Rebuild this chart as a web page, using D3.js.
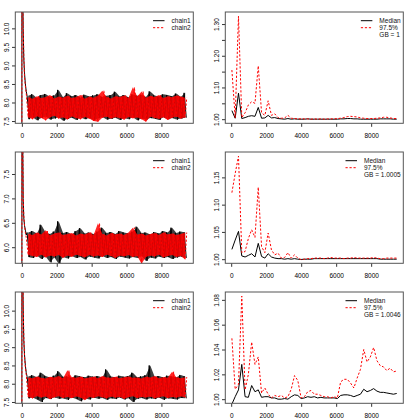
<!DOCTYPE html>
<html>
<head>
<meta charset="utf-8">
<script src="https://cdn.jsdelivr.net/npm/d3@7"></script>
<style>
    body { margin: 0; background: #fff; }
    svg { display: block; }
    text { font-family: "Liberation Sans", Arial, sans-serif; }
</style>
</head>
<body>
<div id="chart"></div>
<script>
// shared x axis / iterations
var xTicks = [0, 2000, 4000, 6000, 8000];
var nIter = 9450;
var burnIter = [1, 5, 40, 75, 110, 150, 200, 250];
var binIter = [300, 550, 800, 1050, 1300, 1550, 1800, 2050, 2300, 2550, 2800, 3050, 3300, 3550, 3800, 4050, 4300, 4550, 4800,
    5050, 5300, 5550, 5800, 6050, 6300, 6550, 6800, 7050, 7300, 7550, 7800, 8050, 8300, 8550, 8800, 9050, 9300];
var gelmanIter = [40, 228, 417, 605, 794, 982, 1170, 1359, 1547, 1736, 1924, 2112, 2301, 2489, 2678, 2866, 3054, 3243, 3431,
    3620, 3808, 3996, 4185, 4373, 4562, 4750, 4938, 5127, 5315, 5504, 5692, 5880, 6069, 6257, 6446, 6634, 6822, 7011, 7199,
    7388, 7576, 7764, 7953, 8141, 8330, 8518, 8706, 8895, 9083, 9272, 9460];
var chainNames = ["chain1", "chain2"];
var gelmanNames = ["Median", "97.5%"];
var gelmanNotes = ["GB = 1", "GB = 1.0005", "GB = 1.0046"];

// row 1 - trace (chain1 = a, chain2 = b), hi/lo of each bin
var burn1a = [5, 20, 11.5, 10.0, 9.2, 8.8, 8.5, 8.3];
var burn1b = [5, 20, 11.8, 10.1, 9.3, 8.7, 8.45, 8.25];
var hi1a = [8.18, 8.22, 8.12, 8.2, 8.23, 8.15, 8.19, 8.34, 8.14, 8.25, 8.17, 8.2, 8.13, 8.21, 8.16, 8.19, 8.22, 8.15, 8.18, 8.2,
    8.29, 8.16, 8.2, 8.14, 8.22, 8.18, 8.21, 8.15, 8.3, 8.19, 8.16, 8.22, 8.2, 8.17, 8.24, 8.15, 8.26];
var lo1a = [7.55, 7.6, 7.52, 7.58, 7.62, 7.54, 7.57, 7.6, 7.51, 7.56, 7.59, 7.53, 7.6, 7.55, 7.58, 7.52, 7.57, 7.61, 7.54, 7.56,
    7.59, 7.53, 7.58, 7.55, 7.6, 7.52, 7.57, 7.54, 7.58, 7.56, 7.53, 7.6, 7.55, 7.58, 7.54, 7.57, 7.59];
var hi1b = [8.14, 8.1, 8.17, 8.12, 8.15, 8.2, 8.11, 8.16, 8.13, 8.18, 8.12, 8.15, 8.2, 8.1, 8.16, 8.13, 8.19, 8.32, 8.14, 8.11,
    8.17, 8.15, 8.19, 8.12, 8.41, 8.16, 8.3, 8.13, 8.18, 8.15, 8.2, 8.12, 8.17, 8.14, 8.19, 8.16, 8.13];
var lo1b = [7.6, 7.55, 7.63, 7.58, 7.52, 7.6, 7.64, 7.57, 7.6, 7.54, 7.62, 7.58, 7.55, 7.61, 7.57, 7.5, 7.48, 7.59, 7.62, 7.56,
    7.6, 7.58, 7.54, 7.61, 7.57, 7.6, 7.55, 7.48, 7.62, 7.58, 7.56, 7.6, 7.53, 7.59, 7.62, 7.57, 7.6];
var traceLim1 = [7.55, 10.33];
var traceTicks1 = [7.5, 8, 8.5, 9, 9.5, 10];
var traceTickLabels1 = ["7.5", "8.0", "8.5", "9.0", "9.5", "10.0"];

// row 1 - shrink factor
var median1 = [1.027, 1.003, 1.082, 1.002, 1.005, 1.009, 1.011, 1.009, 1.037, 1.003,
    1.004, 1.012, 1.004, 1.005, 1.002, 1.001, 1.000, 1.002, 1.000, 1.001,
    1.000, 1.000, 1.000, 1.001, 1.000, 1.000, 1.000, 1.000, 1.000, 1.000,
    1.000, 1.000, 1.000, 1.001, 1.001, 1.002, 1.002, 1.001, 1.001, 1.000,
    1.000, 1.000, 1.000, 1.000, 1.000, 1.001, 1.001, 1.001, 1.001, 1.000, 1.000];
var upper1 = [1.155, 1.004, 1.325, 1.005, 1.020, 1.045, 1.055, 1.050, 1.168, 1.020,
    1.012, 1.058, 1.012, 1.017, 1.005, 1.003, 1.004, 1.012, 1.003, 1.002,
    1.001, 1.001, 1.001, 1.001, 1.000, 1.001, 1.000, 1.001, 1.000, 1.001,
    1.001, 1.001, 1.002, 1.003, 1.005, 1.008, 1.009, 1.008, 1.007, 1.004,
    1.003, 1.002, 1.002, 1.002, 1.003, 1.004, 1.006, 1.006, 1.004, 1.002, 1.002];
var gelmanTicks1 = [1, 1.05, 1.1, 1.15, 1.2, 1.25, 1.3];
var gelmanTickLabels1 = ["1.00", "", "1.10", "", "1.20", "", "1.30"];

// row 2 - trace
var burn2a = [4, 12, 8.6, 7.0, 6.6, 6.45, 6.35, 6.25];
var burn2b = [4, 12, 8.7, 7.1, 6.65, 6.45, 6.3, 6.2];
var hi2a = [6.3, 6.33, 6.28, 6.46, 6.3, 6.27, 6.32, 6.53, 6.29, 6.31, 6.26, 6.33, 6.39, 6.28, 6.3, 6.27, 6.32, 6.4, 6.29, 6.31,
    6.27, 6.33, 6.3, 6.28, 6.32, 6.42, 6.29, 6.3, 6.26, 6.31, 6.28, 6.33, 6.3, 6.4, 6.29, 6.32, 6.3];
var lo2a = [5.8, 5.78, 5.83, 5.76, 5.81, 5.69, 5.79, 5.66, 5.8, 5.77, 5.82, 5.78, 5.8, 5.75, 5.81, 5.79, 5.77, 5.82, 5.78, 5.8,
    5.76, 5.81, 5.79, 5.77, 5.8, 5.78, 5.82, 5.72, 5.79, 5.77, 5.81, 5.78, 5.8, 5.76, 5.79, 5.81, 5.78];
var hi2b = [6.27, 6.25, 6.3, 6.26, 6.35, 6.24, 6.28, 6.3, 6.25, 6.27, 6.29, 6.24, 6.28, 6.26, 6.3, 6.25, 6.49, 6.27, 6.24, 6.29,
    6.26, 6.28, 6.25, 6.3, 6.4, 6.26, 6.28, 6.24, 6.27, 6.29, 6.25, 6.3, 6.26, 6.28, 6.25, 6.27, 6.3];
var lo2b = [5.84, 5.82, 5.8, 5.85, 5.79, 5.83, 5.81, 5.84, 5.78, 5.83, 5.8, 5.85, 5.82, 5.79, 5.84, 5.81, 5.83, 5.8, 5.85, 5.82,
    5.78, 5.83, 5.81, 5.84, 5.8, 5.82, 5.66, 5.8, 5.83, 5.81, 5.85, 5.79, 5.82, 5.84, 5.8, 5.82, 5.75];
var traceLim2 = [5.755, 7.866];
var traceTicks2 = [6, 6.5, 7, 7.5];
var traceTickLabels2 = ["6.0", "6.5", "7.0", "7.5"];

// row 2 - shrink factor
var median2 = [1.018, 1.035, 1.051, 1.006, 1.004, 1.007, 1.010, 1.004, 1.029, 1.005,
    1.002, 1.010, 1.004, 1.002, 1.001, 1.001, 1.000, 1.001, 1.000, 1.001,
    1.000, 0.9995, 1.000, 1.000, 1.000, 1.001, 1.001, 1.001, 1.001, 1.001,
    1.001, 1.001, 1.001, 1.001, 1.001, 1.001, 1.001, 1.001, 1.001, 1.001,
    1.001, 1.001, 1.001, 1.001, 1.001, 1.000, 1.000, 1.000, 1.000, 1.000, 1.000];
var upper2 = [1.122, 1.157, 1.189, 1.012, 1.014, 1.038, 1.054, 1.040, 1.132, 1.023,
    1.012, 1.048, 1.017, 1.008, 1.011, 1.002, 1.003, 1.012, 1.002, 1.008,
    1.002, 0.999, 1.000, 1.001, 1.001, 1.002, 1.002, 1.002, 1.001, 1.002,
    1.003, 1.002, 1.002, 1.002, 1.001, 1.002, 1.002, 1.003, 1.002, 1.002,
    1.002, 1.002, 1.002, 1.003, 1.002, 1.001, 1.001, 1.002, 1.002, 1.002, 1.002];
var gelmanTicks2 = [1, 1.05, 1.1, 1.15];
var gelmanTickLabels2 = ["1.00", "1.05", "1.10", "1.15"];

// row 3 - trace
var burn3a = [5, 20, 11.6, 10.1, 9.2, 8.8, 8.5, 8.3];
var burn3b = [5, 20, 11.8, 10.2, 9.3, 8.75, 8.45, 8.25];
var hi3a = [8.2, 8.23, 8.18, 8.3, 8.21, 8.17, 8.22, 8.34, 8.19, 8.2, 8.16, 8.23, 8.2, 8.18, 8.22, 8.19, 8.21, 8.17, 8.39, 8.2,
    8.18, 8.22, 8.19, 8.21, 8.3, 8.18, 8.2, 8.23, 8.5, 8.19, 8.21, 8.17, 8.22, 8.2, 8.18, 8.24, 8.2];
var lo3a = [7.6, 7.62, 7.57, 7.5, 7.61, 7.58, 7.63, 7.59, 7.6, 7.56, 7.62, 7.58, 7.52, 7.6, 7.57, 7.62, 7.59, 7.61, 7.56, 7.6,
    7.58, 7.62, 7.57, 7.6, 7.5, 7.59, 7.61, 7.57, 7.6, 7.58, 7.62, 7.56, 7.6, 7.59, 7.57, 7.61, 7.6];
var hi3b = [8.17, 8.15, 8.2, 8.16, 8.14, 8.19, 8.17, 8.21, 8.15, 8.37, 8.18, 8.16, 8.2, 8.14, 8.17, 8.19, 8.15, 8.21, 8.17, 8.16,
    8.19, 8.15, 8.18, 8.2, 8.16, 8.17, 8.14, 8.19, 8.17, 8.21, 8.15, 8.18, 8.16, 8.33, 8.17, 8.15, 8.18];
var lo3b = [7.64, 7.6, 7.66, 7.62, 7.65, 7.58, 7.63, 7.66, 7.61, 7.64, 7.6, 7.65, 7.62, 7.55, 7.64, 7.61, 7.66, 7.63, 7.6, 7.65,
    7.62, 7.64, 7.59, 7.63, 7.66, 7.61, 7.64, 7.62, 7.65, 7.6, 7.63, 7.66, 7.61, 7.64, 7.62, 7.65, 7.63];
var traceLim3 = [7.577, 10.397];
var traceTicks3 = [7.5, 8, 8.5, 9, 9.5, 10];
var traceTickLabels3 = ["7.5", "8.0", "8.5", "9.0", "9.5", "10.0"];

// row 3 - shrink factor
var median3 = [0.996, 1.002, 1.0075, 1.028, 1.002, 1.0015, 1.011, 1.006, 1.0075, 1.0015,
    1.002, 1.002, 1.001, 1.001, 1.000, 1.000, 1.0005, 1.000, 1.002, 1.0035,
    1.003, 1.0005, 1.001, 1.002, 1.0015, 1.002, 1.001, 1.0015, 1.001, 1.001,
    1.001, 1.001, 1.0005, 1.003, 1.0035, 1.0035, 1.003, 1.002, 1.003, 1.004,
    1.008, 1.006, 1.007, 1.0085, 1.0065, 1.0055, 1.0055, 1.005, 1.0045, 1.004, 1.0046];
var upper3 = [1.049, 1.008, 1.012, 1.083, 1.0075, 1.020, 1.046, 1.028, 1.034, 1.005,
    1.009, 1.004, 1.001, 1.003, 1.002, 1.003, 1.001, 1.002, 1.008, 1.019,
    1.015, 1.001, 1.002, 1.006, 1.007, 1.004, 1.004, 1.003, 1.002, 1.002,
    1.001, 1.002, 1.001, 1.014, 1.016, 1.016, 1.013, 1.009, 1.017, 1.024,
    1.040, 1.030, 1.034, 1.0416, 1.031, 1.027, 1.026, 1.023, 1.025, 1.022, 1.0227];
var gelmanTicks3 = [1, 1.02, 1.04, 1.06, 1.08];
var gelmanTickLabels3 = ["1.00", "1.02", "1.04", "1.06", "1.08"];

var rows = [
    {burn: [burn1a, burn1b], hi: [hi1a, hi1b], lo: [lo1a, lo1b], lim: traceLim1, ticks: traceTicks1, labels: traceTickLabels1,
        median: median1, upper: upper1, gTicks: gelmanTicks1, gLabels: gelmanTickLabels1, note: gelmanNotes[0]},
    {burn: [burn2a, burn2b], hi: [hi2a, hi2b], lo: [lo2a, lo2b], lim: traceLim2, ticks: traceTicks2, labels: traceTickLabels2,
        median: median2, upper: upper2, gTicks: gelmanTicks2, gLabels: gelmanTickLabels2, note: gelmanNotes[1]},
    {burn: [burn3a, burn3b], hi: [hi3a, hi3b], lo: [lo3a, lo3b], lim: traceLim3, ticks: traceTicks3, labels: traceTickLabels3,
        median: median3, upper: upper3, gTicks: gelmanTicks3, gLabels: gelmanTickLabels3, note: gelmanNotes[2]}
];

// layout
var rowHeight = 140;
var boxTop = 12, boxBottom = 123.3;
var traceLeft = 15.3, traceRight = 193.3;
var gelmanLeft = 225.3, gelmanRight = 403.3;
var fontSize = 6.5;
var boxColor = '#555';
var dash = '2.2,1.8';
var chainColors = ['#000', '#ff0000'];

var svg = d3.select('#chart').append('svg')
    .attr('width', 420)
    .attr('height', 420);

// R style 4% range extension
function extend(lo, hi) {
    var e = (hi - lo) * 0.04;
    return [lo - e, hi + e];
}

function drawAxes(g, x, y, yTicks, yLabels, left) {
    var xAxis = g.append('g')
        .attr('transform', 'translate(0,' + boxBottom + ')')
        .call(d3.axisBottom(x).tickValues(xTicks).tickFormat(d3.format('d')).tickSize(3.5).tickPadding(6.6).tickSizeOuter(0));
    xAxis.select('.domain').remove();
    xAxis.attr('font-size', fontSize).attr('font-family', null);
    xAxis.selectAll('line').attr('stroke', '#333');

    var yAxis = g.append('g')
        .attr('transform', 'translate(' + left + ',0)')
        .call(d3.axisLeft(y).tickValues(yTicks).tickFormat(function (d, i) { return yLabels[i]; }).tickSize(3.3).tickSizeOuter(0));
    yAxis.select('.domain').remove();
    yAxis.attr('font-size', fontSize).attr('font-family', null);
    yAxis.selectAll('line').attr('stroke', '#333');
    yAxis.selectAll('text')
        .attr('x', 0)
        .attr('y', -5.9)
        .attr('dy', null)
        .attr('transform', 'rotate(-90)')
        .attr('text-anchor', 'middle');
}

function drawBox(g, left, right) {
    g.append('rect')
        .attr('x', left)
        .attr('y', boxTop)
        .attr('width', right - left)
        .attr('height', boxBottom - boxTop)
        .attr('fill', 'none')
        .attr('stroke', boxColor)
        .attr('stroke-width', 1);
}

function drawLegend(g, right, labels, colors, dashes) {
    var leg = g.append('g');
    var texts = labels.map(function (label, i) {
        return leg.append('text')
            .text(label)
            .attr('y', boxTop + 8.7 + i * 7)
            .attr('dy', '0.35em')
            .attr('font-size', fontSize)
            .attr('fill', '#111');
    });
    var maxW = d3.max(texts, function (t) { return t.node().getComputedTextLength(); });
    var tx = right - 2.6 - maxW;
    texts.forEach(function (t, i) {
        t.attr('x', tx);
        if (colors[i]) {
            leg.append('line')
                .attr('x1', tx - 18.5).attr('x2', tx - 7)
                .attr('y1', boxTop + 8.7 + i * 7).attr('y2', boxTop + 8.7 + i * 7)
                .attr('stroke', colors[i])
                .attr('stroke-width', 1)
                .attr('stroke-dasharray', dashes[i]);
        }
    });
}

rows.forEach(function (row, r) {
    var g = svg.append('g').attr('transform', 'translate(0,' + r * rowHeight + ')');

    //draw trace plot
    var xT = d3.scaleLinear().domain(extend(1, nIter)).range([traceLeft, traceRight]);
    var yT = d3.scaleLinear().domain(extend(row.lim[0], row.lim[1])).range([boxBottom, boxTop]);
    g.append('clipPath').attr('id', 'clipT' + r)
        .append('rect').attr('x', traceLeft).attr('y', boxTop)
        .attr('width', traceRight - traceLeft).attr('height', boxBottom - boxTop);
    var traceLine = d3.line().x(function (d) { return xT(d[0]); }).y(function (d) { return yT(d[1]); });
    var band = d3.area()
        .x(function (d, i) { return xT(binIter[i] + 62); })
        .y0(function (d) { return yT(d[0]); })
        .y1(function (d) { return yT(d[1]); });
    var plotT = g.append('g').attr('clip-path', 'url(#clipT' + r + ')');
    [0, 1].forEach(function (c) {
        // dense samples of a chain read as a band between its bin lows and highs
        var bins = binIter.map(function (b, i) { return [row.lo[c][i], row.hi[c][i]]; });
        plotT.append('path')
            .attr('d', band(bins))
            .attr('fill', chainColors[c])
            .attr('fill-opacity', c === 0 ? 0.75 : 0.85);
        var pts = burnIter.map(function (it, i) { return [it, row.burn[c][i]]; });
        binIter.forEach(function (b, i) {
            if (c === 0) {
                pts.push([b, row.hi[c][i]]);
                pts.push([b + 125, row.lo[c][i]]);
            } else {
                pts.push([b + 62, row.lo[c][i]]);
                pts.push([b + 150, row.hi[c][i]]);
            }
        });
        plotT.append('path')
            .attr('d', traceLine(pts))
            .attr('fill', 'none')
            .attr('stroke', chainColors[c])
            .attr('stroke-width', 1)
            .attr('stroke-dasharray', c === 0 ? null : dash);
    });
    drawAxes(g, xT, yT, row.ticks, row.labels, traceLeft);
    drawBox(g, traceLeft, traceRight);
    drawLegend(g, traceRight, chainNames, chainColors, [null, dash]);

    //draw shrink factor plot
    var yMax = d3.max([1, d3.max(row.median), d3.max(row.upper)]);
    var xG = d3.scaleLinear().domain(extend(gelmanIter[0], gelmanIter[gelmanIter.length - 1])).range([gelmanLeft, gelmanRight]);
    var yG = d3.scaleLinear().domain(extend(1, yMax)).range([boxBottom, boxTop]);
    g.append('clipPath').attr('id', 'clipG' + r)
        .append('rect').attr('x', gelmanLeft).attr('y', boxTop)
        .attr('width', gelmanRight - gelmanLeft).attr('height', boxBottom - boxTop);
    var plotG = g.append('g').attr('clip-path', 'url(#clipG' + r + ')');
    var gLine = d3.line().x(function (d, i) { return xG(gelmanIter[i]); }).y(function (d) { return yG(d); });
    plotG.append('path')
        .attr('d', gLine(row.median))
        .attr('fill', 'none')
        .attr('stroke', '#000')
        .attr('stroke-width', 1);
    plotG.append('path')
        .attr('d', gLine(row.upper))
        .attr('fill', 'none')
        .attr('stroke', '#ff0000')
        .attr('stroke-width', 1)
        .attr('stroke-dasharray', dash);
    drawAxes(g, xG, yG, row.gTicks, row.gLabels, gelmanLeft);
    drawBox(g, gelmanLeft, gelmanRight);
    drawLegend(g, gelmanRight, gelmanNames.concat([row.note]), ['#000', '#ff0000', null], [null, dash, null]);
});
</script>
</body>
</html>
